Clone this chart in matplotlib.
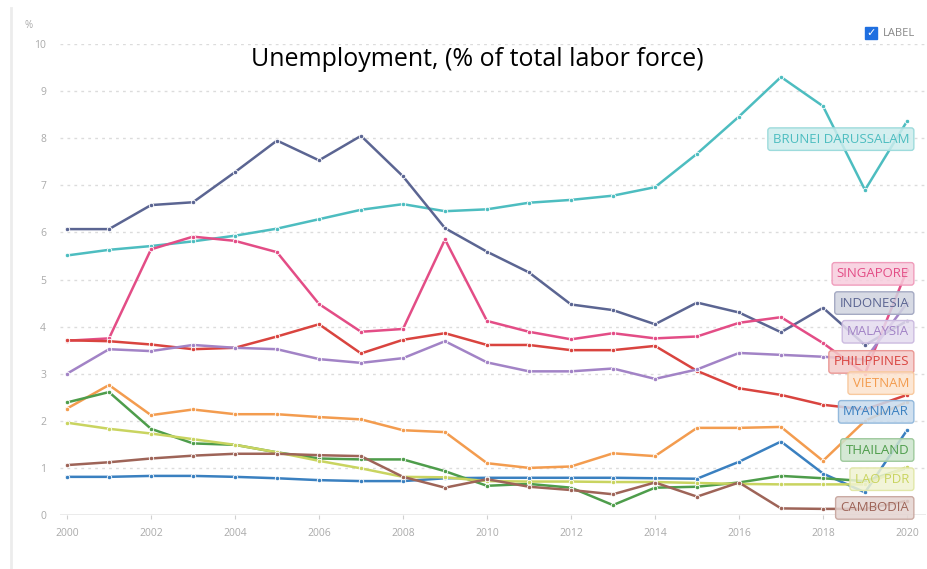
import matplotlib
matplotlib.use("Agg")
import matplotlib.pyplot as plt
from matplotlib.lines import Line2D
from matplotlib.colors import to_rgb

years = list(range(2000, 2021))

brunei = [5.51, 5.63, 5.71, 5.81, 5.93, 6.08, 6.28, 6.48, 6.60, 6.45, 6.49,
          6.63, 6.69, 6.78, 6.96, 7.67, 8.46, 9.30, 8.68, 6.90, 8.36]
indonesia = [6.07, 6.07, 6.58, 6.64, 7.28, 7.95, 7.53, 8.05, 7.19, 6.09, 5.59,
             5.15, 4.47, 4.35, 4.05, 4.51, 4.30, 3.88, 4.40, 3.61, 4.12]
singapore = [3.70, 3.75, 5.64, 5.91, 5.82, 5.58, 4.48, 3.89, 3.95, 5.85, 4.12,
             3.89, 3.73, 3.86, 3.75, 3.79, 4.08, 4.20, 3.65, 3.00, 5.20]
philippines = [3.71, 3.69, 3.62, 3.52, 3.55, 3.79, 4.05, 3.43, 3.72, 3.86, 3.61,
               3.61, 3.50, 3.50, 3.59, 3.06, 2.69, 2.55, 2.34, 2.24, 2.55]
malaysia = [3.00, 3.52, 3.48, 3.61, 3.55, 3.52, 3.31, 3.23, 3.33, 3.69, 3.24,
            3.05, 3.05, 3.11, 2.89, 3.09, 3.44, 3.40, 3.36, 3.30, 4.50]
vietnam = [2.26, 2.76, 2.12, 2.24, 2.14, 2.14, 2.08, 2.03, 1.80, 1.76, 1.10,
           1.00, 1.03, 1.31, 1.25, 1.85, 1.85, 1.87, 1.15, 2.00, 2.40]
myanmar = [0.81, 0.81, 0.83, 0.83, 0.81, 0.78, 0.74, 0.72, 0.72, 0.78, 0.79,
           0.79, 0.79, 0.79, 0.78, 0.77, 1.13, 1.56, 0.88, 0.48, 1.80]
thailand = [2.39, 2.61, 1.83, 1.52, 1.49, 1.33, 1.20, 1.18, 1.18, 0.93, 0.62,
            0.66, 0.58, 0.21, 0.58, 0.60, 0.69, 0.83, 0.78, 0.72, 1.00]
lao = [1.96, 1.83, 1.73, 1.61, 1.49, 1.33, 1.15, 0.99, 0.81, 0.80, 0.72,
       0.71, 0.71, 0.70, 0.70, 0.68, 0.66, 0.65, 0.65, 0.65, 1.02]
cambodia = [1.06, 1.12, 1.20, 1.26, 1.30, 1.30, 1.27, 1.25, 0.81, 0.58, 0.76,
            0.60, 0.53, 0.44, 0.69, 0.39, 0.69, 0.14, 0.13, 0.13, 0.30]

names = ["BRUNEI DARUSSALAM", "INDONESIA", "SINGAPORE", "PHILIPPINES", "MALAYSIA",
         "VIETNAM", "MYANMAR", "THAILAND", "LAO PDR", "CAMBODIA"]
series = [brunei, indonesia, singapore, philippines, malaysia,
          vietnam, myanmar, thailand, lao, cambodia]
colors = ["#4dbdc0", "#5b6592", "#e34d86", "#d9443f", "#a283c6",
          "#f39c4f", "#3a80c0", "#4e9d4b", "#c9d460", "#9e6458"]
# label box vertical positions (data units), spread to avoid overlap
label_y = [7.98, 4.50, 5.12, 3.25, 3.89, 2.80, 2.19, 1.38, 0.76, 0.15]

W, H = 928, 569
fig = plt.figure(figsize=(W / 100, H / 100), dpi=100)
plt.rcParams['font.family'] = ['Open Sans', 'DejaVu Sans']

left_px, right_px, bottom_px, top_px = 60, 926, 515, 44
ax = fig.add_axes([left_px / W, 1 - bottom_px / H,
                   (right_px - left_px) / W, (bottom_px - top_px) / H])
ppy = 42.0
ax.set_xlim(2000 - (67 - left_px) / ppy, 2020 + (right_px - 907) / ppy)
ax.set_ylim(0, 10)

for s in ax.spines.values():
    s.set_visible(False)

for v in range(1, 11):
    ax.axhline(v, color="#dcdcdc", lw=1.0, ls=(0, (2, 3)), zorder=0)
ax.axhline(0, color="#e8e8e8", lw=1.2, zorder=0)

for name, vals, c in zip(names, series, colors):
    ax.plot(years, vals, color=c, lw=1.8, marker="o", ms=3.2,
            mfc=c, mec="white", mew=0.6, zorder=3, clip_on=False)


def tint(c, f):
    r, g, b = to_rgb(c)
    return (1 - f + f * r, 1 - f + f * g, 1 - f + f * b)


for name, c, ly in zip(names, colors, label_y):
    ax.annotate(name, xy=(2020.05, ly), xycoords="data", ha="right", va="center",
                fontsize=9.5, color=c, zorder=5,
                bbox=dict(boxstyle="round,pad=0.36,rounding_size=0.2",
                          fc=tint(c, 0.28) + (0.85,), ec=tint(c, 0.55), lw=1.0))

ax.set_xticks(range(2000, 2021, 2))
ax.set_yticks(range(0, 11))
ax.tick_params(axis="x", colors="#d0d0d0", labelcolor="#aaaaaa", labelsize=7.5,
               length=3, width=0.8, pad=6)
ax.tick_params(axis="y", length=0, labelcolor="#aaaaaa", labelsize=7.5, pad=10)

fig.text(29 / W, 1 - 26 / H, "%", fontsize=7, color="#aaaaaa", ha="center", va="center")
fig.text(477 / W, 1 - 60 / H, "Unemployment, (% of total labor force)",
         fontsize=18, color="black", ha="center", va="center")

# checkbox legend
fig.patches.append(plt.Rectangle((865 / W, 1 - 39 / H), 12 / W, 12 / H,
                                 transform=fig.transFigure, fc="#1f6fe0",
                                 ec="#1f6fe0", zorder=5))
fig.text(871 / W, 1 - 33 / H, "\u2713", fontsize=8, color="white",
         ha="center", va="center", family=["DejaVu Sans"], weight="bold", zorder=6)
fig.text(883 / W, 1 - 33 / H, "LABEL", fontsize=8, color="#888888",
         ha="left", va="center")

fig.lines.append(Line2D([11 / W, 11 / W], [0, 1 - 8 / H], transform=fig.transFigure,
                        color="#ececec", lw=2))

fig.savefig("out.png", dpi=100)
